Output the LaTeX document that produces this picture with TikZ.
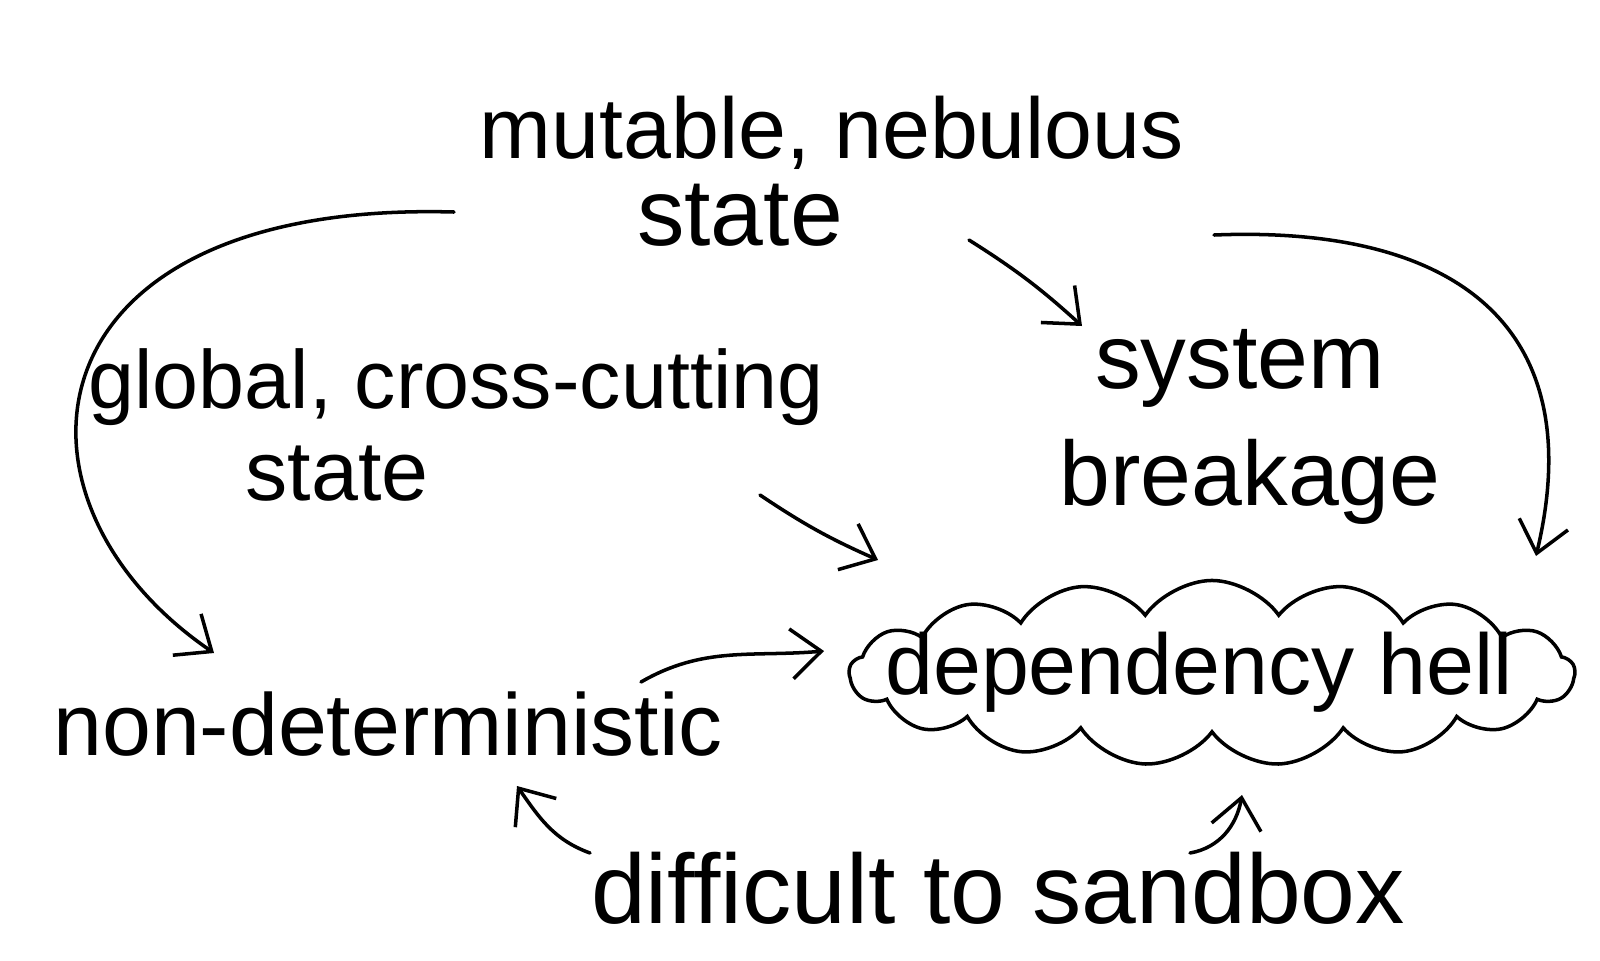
\documentclass[tikz,border=0pt]{standalone}
\usepackage{fontspec}
\setmainfont{Liberation Sans}
\usetikzlibrary{arrows.meta,shapes.symbols}

\begin{document}
\begin{tikzpicture}[x=0.01cm,y=-0.01cm,
  idea/.style={font=\fontsize{24}{28}\selectfont,anchor=base,inner sep=0pt},
  link/.style={line width=1pt,line cap=round,-{Straight Barb[length=3mm,width=5mm]}}]
\useasboundingbox (0,0) rectangle (1600,960);

% texts
\node[idea,font=\fontsize{24.5}{28}\selectfont] (mutable) at (832,158) {mutable, nebulous};
\node[idea,font=\fontsize{27}{28}\selectfont] (mutable-2) at (740,245) {state};
\node[idea,font=\fontsize{23.5}{28}\selectfont] (global) at (456,408) {global, cross-cutting};
\node[idea] (global-2) at (337,500) {state};
\node[idea,font=\fontsize{26}{28}\selectfont] (system) at (1240,388) {system};
\node[idea,font=\fontsize{26}{28}\selectfont] (system-2) at (1250,505) {breakage};
\node[idea,font=\fontsize{25}{28}\selectfont] (nondet) at (388,755) {non-deterministic};
\node[idea,font=\fontsize{28}{28}\selectfont] (sandbox) at (998,923) {difficult to sandbox};
\node[cloud,draw,line width=1pt,cloud puffs=17,cloud puff arc=110,
  minimum width=7.25cm,minimum height=1.85cm] (hell) at (1212,673) {};
\node[idea,font=\fontsize{24.5}{28}\selectfont] (hell-text) at (1199,694) {dependency hell};

% free ends
\coordinate (m-left) at (454,212);
\coordinate (m-mid) at (969,240);
\coordinate (m-right) at (1214,235);
\coordinate (n-top) at (214,653);
\coordinate (s-top) at (1082,326);
\coordinate (h-top) at (1536,556);
\coordinate (g-end) at (760,495);
\coordinate (h-left) at (878,560);
\coordinate (n-right) at (641,682);
\coordinate (h-west) at (824,651);
\coordinate (d-left) at (590,853);
\coordinate (n-bot) at (517,786);
\coordinate (d-right) at (1190,853);
\coordinate (h-bot) at (1242,795);

% connectors
\draw[link] (m-left) .. controls (20,200) and (-10,500) .. (n-top);
\draw[link] (m-mid) to[bend left=5] (s-top);
\draw[link] (m-right) .. controls (1460,225) and (1590,330) .. (h-top);
\draw[link] (g-end) to[bend right=5] (h-left);
\draw[link] (n-right) to[out=30,in=185] (h-west);
\draw[link] (d-left) to[out=160,in=-55] (n-bot);
\draw[link] (d-right) to[out=10,in=-100] (h-bot);
\end{tikzpicture}
\end{document}
